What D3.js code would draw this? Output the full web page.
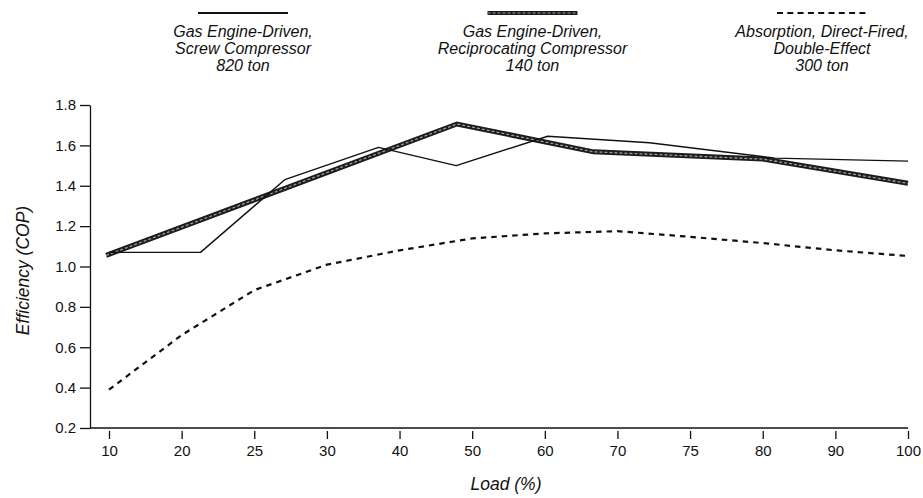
<!DOCTYPE html>
<html>
<head>
<meta charset="utf-8">
<script src="https://cdn.jsdelivr.net/npm/d3@7"></script>
<style>
  html, body { margin: 0; padding: 0; background: #fff; }
  svg { display: block; font-family: "Liberation Sans", Arial, Helvetica, sans-serif; }
</style>
</head>
<body>
<svg id="chart" width="923" height="498"></svg>
<script>
// Load (%) tick labels, evenly spaced along the axis
const loadTicks = [10, 20, 25, 30, 40, 50, 60, 70, 75, 80, 90, 100];
const copTicks = [0.2, 0.4, 0.6, 0.8, 1.0, 1.2, 1.4, 1.6, 1.8];

// Gas engine-driven, screw compressor, 820 ton  [load %, COP]
const screwLoad = [10, 21.3, 27.1, 37.1, 47.8, 60.4, 72.2, 81.7, 100];
const screwCop  = [1.07, 1.07, 1.43, 1.59, 1.50, 1.645, 1.613, 1.537, 1.522];

// Gas engine-driven, reciprocating compressor, 140 ton
const recipLoad = [9.6, 47.9, 66.7, 80, 100];
const recipCop  = [1.055, 1.706, 1.568, 1.532, 1.412];

// Absorption, direct-fired, double-effect, 300 ton
const absorbLoad = [10, 20, 25, 30, 40, 50, 60, 70, 75, 80, 90, 100];
const absorbCop  = [0.39, 0.66, 0.883, 1.009, 1.08, 1.139, 1.164, 1.175, 1.147, 1.116, 1.08, 1.052];

const seriesNames = [
  ["Gas Engine-Driven,", "Screw Compressor", "820 ton"],
  ["Gas Engine-Driven,", "Reciprocating Compressor", "140 ton"],
  ["Absorption, Direct-Fired,", "Double-Effect", "300 ton"]
];

const svg = d3.select("#chart");

// evenly spaced tick positions, then a piecewise linear load scale through them
const tickPos = d3.scalePoint().domain(loadTicks).range([109, 908]);
const x = d3.scaleLinear().domain(loadTicks).range(loadTicks.map(d => tickPos(d)));
const y = d3.scaleLinear().domain([0.2, 1.8]).range([428, 105]);

const axisColor = "#111";

// y axis
const yAxis = svg.append("g")
  .attr("transform", "translate(90,0)")
  .call(d3.axisLeft(y).tickValues(copTicks).tickFormat(d3.format(".1f"))
    .tickSize(10).tickSizeOuter(0).tickPadding(4));
yAxis.select(".domain").attr("stroke", axisColor).attr("stroke-width", 1.3);
yAxis.selectAll(".tick line").attr("stroke", axisColor).attr("stroke-width", 1.3);
yAxis.selectAll(".tick text").attr("font-size", 15).attr("fill", "#111")
  .attr("font-family", "Liberation Sans, Arial, sans-serif");

// x axis baseline
svg.append("line")
  .attr("x1", 90).attr("x2", x(100))
  .attr("y1", y(0.2)).attr("y2", y(0.2))
  .attr("stroke", axisColor).attr("stroke-width", 1.5);

// x axis ticks sit just below the baseline
const xAxis = svg.append("g")
  .attr("transform", `translate(0,${y(0.2) + 3})`)
  .call(d3.axisBottom(x).tickValues(loadTicks).tickFormat(d3.format("d"))
    .tickSize(8).tickSizeOuter(0).tickPadding(6));
xAxis.select(".domain").remove();
xAxis.selectAll(".tick line").attr("stroke", axisColor).attr("stroke-width", 1.3);
xAxis.selectAll(".tick text").attr("font-size", 15).attr("fill", "#111")
  .attr("font-family", "Liberation Sans, Arial, sans-serif");

// axis titles
svg.append("text")
  .attr("transform", `translate(29,${(y(0.2) + y(1.8)) / 2 + 4}) rotate(-90)`)
  .attr("text-anchor", "middle")
  .attr("font-size", 17.5).attr("font-style", "italic").attr("fill", "#111")
  .text("Efficiency (COP)");

svg.append("text")
  .attr("x", 506).attr("y", 490)
  .attr("text-anchor", "middle")
  .attr("font-size", 17.5).attr("font-style", "italic").attr("fill", "#111")
  .text("Load (%)");

const line = d3.line().x(d => x(d[0])).y(d => y(d[1]));

const screw = d3.zip(screwLoad, screwCop);
const recip = d3.zip(recipLoad, recipCop);
const absorb = d3.zip(absorbLoad, absorbCop);

// absorption chiller: dashed
svg.append("path").datum(absorb)
  .attr("d", line).attr("fill", "none")
  .attr("stroke", "#111").attr("stroke-width", 2.2)
  .attr("stroke-dasharray", "5.5,5");

// reciprocating: heavy banded line
svg.append("path").datum(recip)
  .attr("d", line).attr("fill", "none")
  .attr("stroke", "#1c1c1c").attr("stroke-width", 5)
  .attr("stroke-linejoin", "miter");
svg.append("path").datum(recip)
  .attr("d", line).attr("fill", "none")
  .attr("stroke", "#9a9a9a").attr("stroke-width", 1.3)
  .attr("stroke-dasharray", "3,2");

// screw compressor: thin solid
svg.append("path").datum(screw)
  .attr("d", line).attr("fill", "none")
  .attr("stroke", "#111").attr("stroke-width", 1.4)
  .attr("stroke-linejoin", "round");

// legend across the top
const legendX = d3.scalePoint().domain([0, 1, 2]).range([243, 822]);
const legend = svg.append("g");
seriesNames.forEach((lines, i) => {
  const cx = legendX(i);
  const g = legend.append("g").attr("transform", `translate(${cx},0)`);
  const sample = g.append("line").attr("x1", -45).attr("x2", 45).attr("y1", 13).attr("y2", 13)
    .attr("fill", "none");
  if (i === 0) {
    sample.attr("stroke", "#111").attr("stroke-width", 1.8);
  } else if (i === 1) {
    sample.attr("stroke", "#1c1c1c").attr("stroke-width", 4);
    g.append("line").attr("x1", -45).attr("x2", 45).attr("y1", 13).attr("y2", 13)
      .attr("stroke", "#9a9a9a").attr("stroke-width", 1).attr("stroke-dasharray", "3,2");
  } else {
    sample.attr("stroke", "#111").attr("stroke-width", 2.2).attr("stroke-dasharray", "6,4.3");
  }
  g.append("text")
    .attr("text-anchor", "middle")
    .attr("font-size", 16).attr("font-style", "italic").attr("fill", "#111")
    .selectAll("tspan").data(lines).join("tspan")
    .attr("x", 0).attr("y", (d, k) => 37 + k * 17)
    .text(d => d);
});
</script>
</body>
</html>
